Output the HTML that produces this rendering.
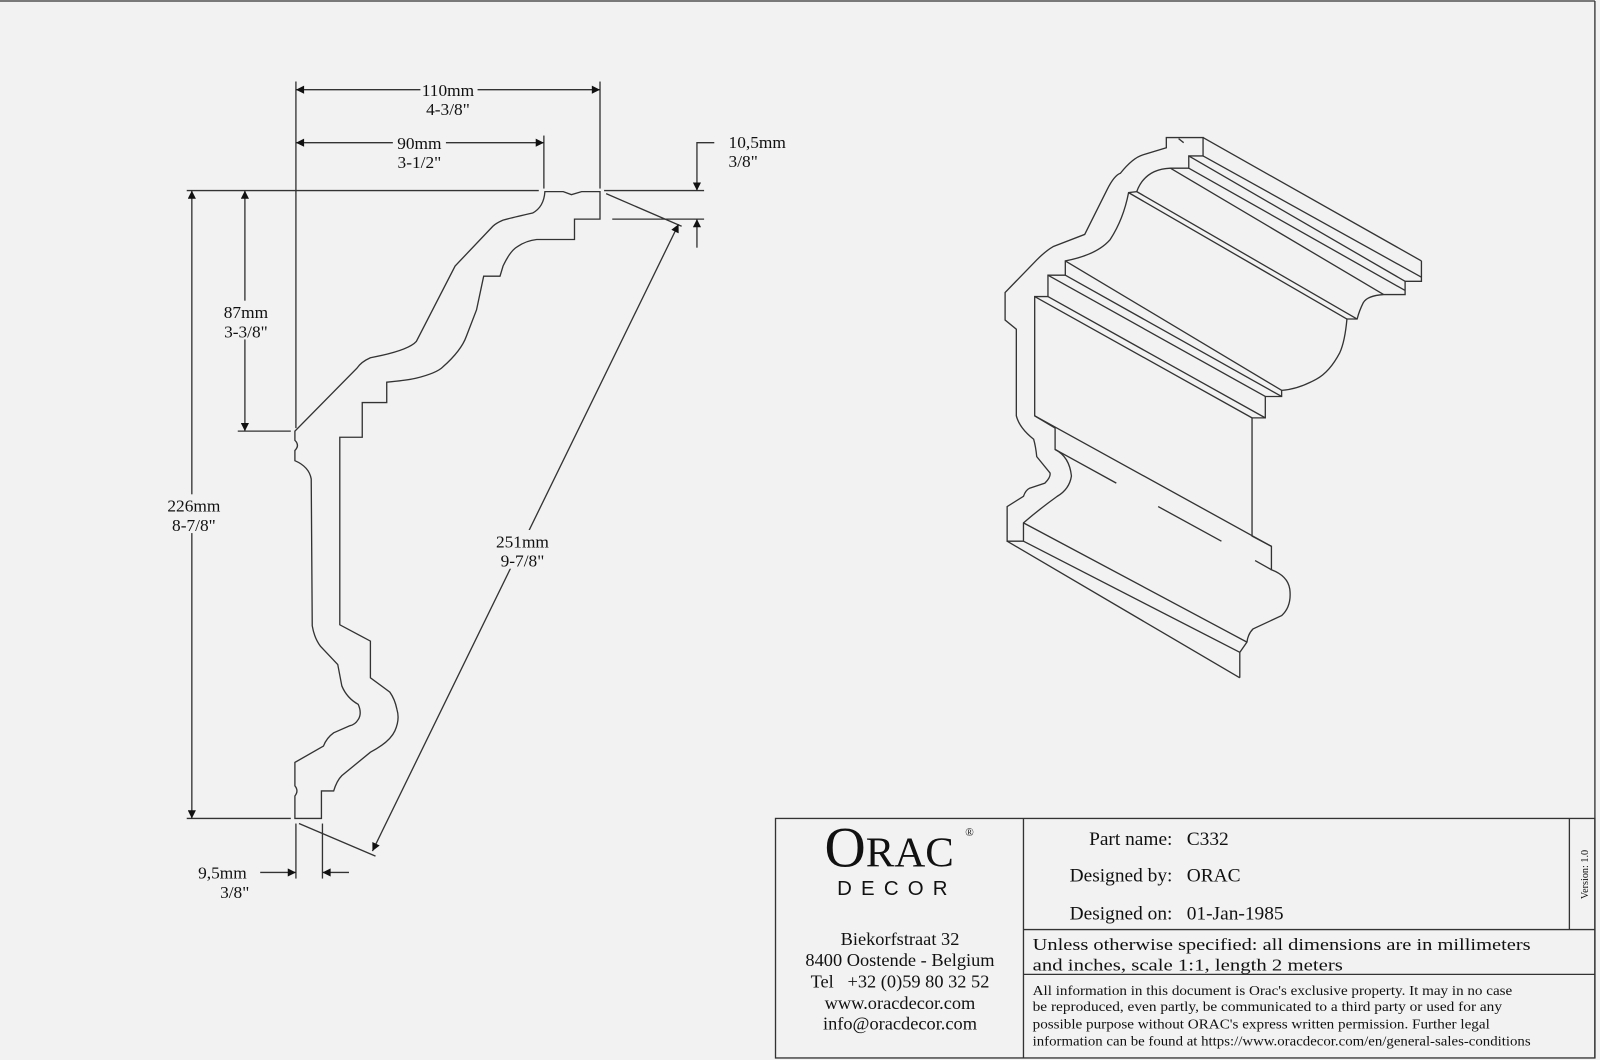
<!DOCTYPE html>
<html><head><meta charset="utf-8"><style>
html,body{margin:0;padding:0;background:#f2f2f2;}
svg{display:block;}
text{font-family:"Liberation Serif",serif;fill:#111;}
</style></head><body>
<svg width="1600" height="1060" viewBox="0 0 1568 1040" preserveAspectRatio="none" xmlns="http://www.w3.org/2000/svg">
<defs>
<marker id="a" viewBox="0 0 10 10" refX="10" refY="5" markerWidth="22" markerHeight="8" markerUnits="userSpaceOnUse" orient="auto-start-reverse"><path d="M0,0 L10,5 L0,10 z" fill="#111"/></marker>
</defs>
<rect width="1568" height="1040" fill="#f2f2f2"/>
<g stroke="#333" stroke-width="1.3" fill="none">
<line x1="0" y1="1" x2="1563" y2="1"/>
<line x1="1563" y1="1" x2="1563" y2="1038"/>

<path d="M534,188 Q533,203 522,209 Q500,214 493,216 Q486,219 483,222 L446,261 L408,335 Q400,344 363,351 Q354,355 350,361 L289,423 L289,432 Q294,437 289,442 L289,452 Q303,458 305,470 L306,614 Q308,626 314,634 L331,652 L335,673 Q340,685 351,691 Q355,700 351,706 Q348,711 343,712 L327,719 Q320,724 317,732 L289,748 L289,771 Q293,776 289,781 L289,803 L315,803 L315,776 L327,776 Q330,766 335,761 L363,738 Q382,728 387,717 Q392,706 389,696 Q387,686 382,679 L363,665 L363,629 L333,613 L333,429 L355,429 L355,395 L379,395 L379,375 Q400,373 408,371 Q428,366 434,360 Q452,344 457,330 L467,304 L474,271 L490,271 L493,261 Q500,246 507,242 Q516,236 526,235 L563,235 L563,215 L588,215 L588,188 L570,188 L560,191 L552,188 Z"/>

<line x1="290" y1="80" x2="290" y2="420"/>
<line x1="588" y1="80" x2="588" y2="185"/>
<line x1="533" y1="133" x2="533" y2="185"/>
<line x1="183" y1="187" x2="528" y2="187"/>
<line x1="592" y1="187" x2="690" y2="187"/>
<line x1="600" y1="215" x2="690" y2="215"/>
<line x1="233" y1="423" x2="285" y2="423"/>
<line x1="183" y1="803" x2="285" y2="803"/>
<line x1="290" y1="808" x2="290" y2="862"/>
<line x1="316" y1="808" x2="316" y2="862"/>
<line x1="594" y1="190" x2="668" y2="222"/>
<line x1="293" y1="808" x2="368" y2="840"/>
<line x1="290" y1="88" x2="588" y2="88" marker-start="url(#a)" marker-end="url(#a)"/>
<line x1="290" y1="140" x2="533" y2="140" marker-start="url(#a)" marker-end="url(#a)"/>
<line x1="188" y1="187" x2="188" y2="803" marker-start="url(#a)" marker-end="url(#a)"/>
<line x1="240" y1="187" x2="240" y2="423" marker-start="url(#a)" marker-end="url(#a)"/>
<line x1="665" y1="220" x2="365" y2="835" marker-start="url(#a)" marker-end="url(#a)"/>
<polyline points="700,140 683,140 683,187" marker-end="url(#a)"/>
<line x1="683" y1="243" x2="683" y2="215" marker-end="url(#a)"/>
<line x1="255" y1="856" x2="290" y2="856" marker-end="url(#a)"/>
<line x1="342" y1="856" x2="316" y2="856" marker-end="url(#a)"/>

<path d="M1143,135 L1179,135 L1179,153 L1165,153 L1165,165 L1147,165 Q1122,166 1114,188 L1106,189 Q1101,215 1088,235 Q1075,250 1044,256 L1044,270 L1027,270 L1027,291 L1014,291 L1014,408 L1034,420 L1034,441 Q1048,448 1050,467 Q1048,480 1036,487 Q1018,500 1003,513 L1003,531 L987,531 L987,497 L1003,487 Q1005,481 1009,479 L1024,474 Q1030,468 1029,464 L1016,448 Q1015,438 1013,431 Q999,420 996,408 L996,323 L985,314 L985,287 L1016,255 Q1025,246 1032,242 L1063,230 L1085,186 Q1092,172 1098,170 Q1110,155 1120,152 L1143,145 Z"/>
<line x1="1155" y1="136" x2="1160" y2="140"/>
<line x1="1179" y1="135" x2="1393" y2="256"/>
<line x1="1179" y1="153" x2="1393" y2="272"/>
<line x1="1165" y1="153" x2="1377" y2="276"/>
<line x1="1165" y1="165" x2="1377" y2="285"/>
<line x1="1147" y1="165" x2="1356" y2="289"/>
<path d="M1393,256 L1393,276 L1377,276 L1377,289 L1356,289 Q1340,290 1336,297 Q1332,305 1330,313 L1320,313 Q1318,335 1313,346 Q1303,365 1290,372 Q1272,382 1256,383 L1256,389 L1240,389 L1240,410 L1227,410 L1227,526 L1246,536 L1246,559 Q1262,565 1264,578 Q1266,595 1256,604 L1228,617 Q1223,622 1222,630 L1215,640 L1215,665"/>
<line x1="1106" y1="189" x2="1320" y2="313"/>
<line x1="1114" y1="188" x2="1330" y2="313"/>
<line x1="1044" y1="256" x2="1256" y2="383"/>
<line x1="1044" y1="270" x2="1256" y2="389"/>
<line x1="1027" y1="270" x2="1240" y2="389"/>
<line x1="1027" y1="291" x2="1240" y2="410"/>
<line x1="1014" y1="291" x2="1227" y2="410"/>
<line x1="1014" y1="408" x2="1246" y2="536"/>
<line x1="1034" y1="441" x2="1094" y2="474"/>
<line x1="1135" y1="497" x2="1197" y2="531"/>
<line x1="1230" y1="550" x2="1246" y2="559"/>
<line x1="1003" y1="513" x2="1222" y2="630"/>
<line x1="1003" y1="531" x2="1215" y2="640"/>
<line x1="987" y1="531" x2="1215" y2="665"/>

<rect x="760" y="803" width="803" height="235"/>
<line x1="1003" y1="803" x2="1003" y2="1038"/>
<line x1="1003" y1="912" x2="1563" y2="912"/>
<line x1="1003" y1="956" x2="1563" y2="956"/>
<line x1="1538" y1="803" x2="1538" y2="912"/>
</g>

<!-- label backgrounds (gaps in dimension lines) -->
<g fill="#f2f2f2">
<rect x="412" y="78" width="56" height="36"/>
<rect x="385" y="130" width="52" height="36"/>
<rect x="214" y="295" width="54" height="38"/>
<rect x="160" y="485" width="60" height="38"/>
<rect x="480" y="520" width="64" height="38"/>
</g>
<g font-size="17" text-anchor="middle">
<text x="439" y="94">110mm</text><text x="439" y="113">4-3/8"</text>
<text x="411" y="146">90mm</text><text x="411" y="165">3-1/2"</text>
<text x="241" y="312">87mm</text><text x="241" y="331">3-3/8"</text>
<text x="190" y="502">226mm</text><text x="190" y="521">8-7/8"</text>
<text x="512" y="537">251mm</text><text x="512" y="556">9-7/8"</text>
<text x="218" y="862">9,5mm</text><text x="230" y="881">3/8"</text>
</g>
<g font-size="17"><text x="714" y="145">10,5mm</text><text x="714" y="164">3/8"</text></g>

<text x="808" y="850" font-size="56">O<tspan font-size="42">RAC</tspan></text>
<text x="946" y="820" font-size="11">®</text>
<text x="879" y="878" font-size="20" text-anchor="middle" letter-spacing="9" style="font-family:'Liberation Sans',sans-serif">DECOR</text>
<g font-size="18" text-anchor="middle">
<text x="882" y="927">Biekorfstraat 32</text>
<text x="882" y="948">8400 Oostende - Belgium</text>
<text x="882" y="969" xml:space="preserve">Tel   +32 (0)59 80 32 52</text>
<text x="882" y="990">www.oracdecor.com</text>
<text x="882" y="1010">info@oracdecor.com</text>
</g>
<g font-size="19">
<text x="1149" y="829" text-anchor="end">Part name:</text><text x="1163" y="829">C332</text>
<text x="1149" y="865" text-anchor="end">Designed by:</text><text x="1163" y="865">ORAC</text>
<text x="1149" y="902" text-anchor="end">Designed on:</text><text x="1163" y="902">01-Jan-1985</text>
</g>
<g font-size="17">
<text x="1012" y="932" textLength="488" lengthAdjust="spacingAndGlyphs">Unless otherwise specified: all dimensions are in millimeters</text>
<text x="1012" y="952" textLength="304" lengthAdjust="spacingAndGlyphs">and inches, scale 1:1, length 2 meters</text>
</g>
<g font-size="13">
<text x="1012" y="976" textLength="470" lengthAdjust="spacingAndGlyphs">All information in this document is Orac's exclusive property.  It may in no case</text>
<text x="1012" y="992" textLength="460" lengthAdjust="spacingAndGlyphs">be reproduced, even partly, be communicated to a third party or used for any</text>
<text x="1012" y="1009" textLength="448" lengthAdjust="spacingAndGlyphs">possible purpose without ORAC's express written permission. Further legal</text>
<text x="1012" y="1026" textLength="488" lengthAdjust="spacingAndGlyphs">information can be found at https://www.oracdecor.com/en/general-sales-conditions</text>
</g>
<text transform="translate(1556,858) rotate(-90)" font-size="10" text-anchor="middle">Version: 1.0</text>
</svg>
</body></html>
